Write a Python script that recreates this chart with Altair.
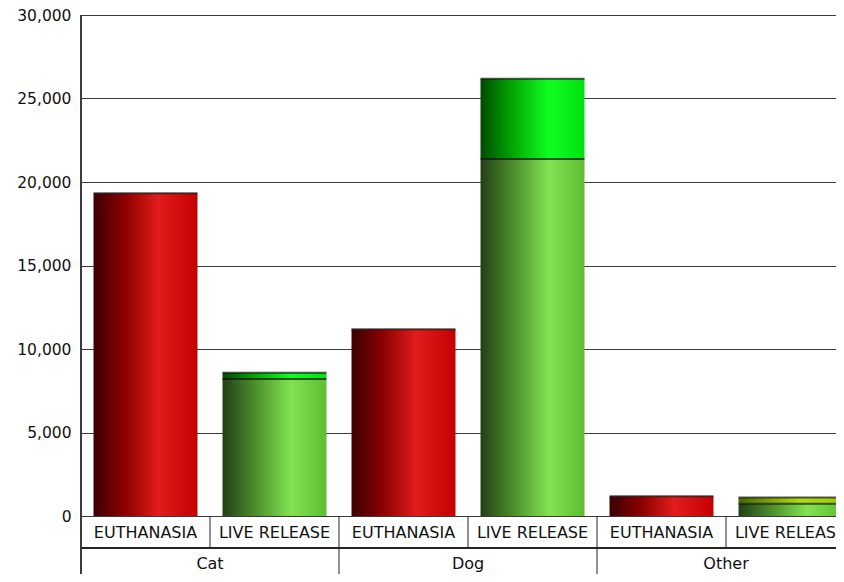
import altair as alt
import pandas as pd

animals = ["Cat", "Dog", "Other"]
outcomes = ["EUTHANASIA", "LIVE RELEASE"]

# stacked segments (series name, outcome, values per animal)
series_names = ["Euthanasia", "Live release A", "Live release B", "Live release C"]
series_outcome = ["EUTHANASIA", "LIVE RELEASE", "LIVE RELEASE", "LIVE RELEASE"]
euthanasia = [19320, 11190, 1190]
live_a = [8210, 21380, 740]
live_b = [370, 4810, 0]
live_c = [0, 0, 370]
series_values = [euthanasia, live_a, live_b, live_c]

rows = []
for si, (name, out, vals) in enumerate(zip(series_names, series_outcome, series_values)):
    for a, v in zip(animals, vals):
        rows.append({"animal": a, "outcome": out, "key": a + "|" + out,
                     "series": name, "order": si, "value": v})
df = pd.DataFrame(rows)

keys = [a + "|" + o for a in animals for o in outcomes]
lab = pd.DataFrame([{"key": a + "|" + o, "animal": a, "outcome": o,
                     "first": o == "EUTHANASIA"} for a in animals for o in outcomes])

W = 774
H = 501
FONT = "DejaVu Sans"


def grad(stops):
    return alt.Gradient(gradient="linear", x1=0, x2=1, y1=0, y2=0,
                        stops=[alt.GradientStop(offset=o, color=c) for o, c in stops])


colors = {
    "Euthanasia": grad([(0, "#3a0004"), (0.3, "#8c0000"), (0.62, "#e01c1c"), (1, "#c40000")]),
    "Live release A": grad([(0, "#233f18"), (0.3, "#4a8a2a"), (0.66, "#82e252"), (1, "#5cbe30")]),
    "Live release B": grad([(0, "#004a00"), (0.28, "#00a000"), (0.66, "#10ff22"), (1, "#00e010")]),
    "Live release C": grad([(0, "#496800"), (0.6, "#b0e012"), (1, "#98c800")]),
}

xenc = alt.X("key:N", sort=keys, axis=None,
             scale=alt.Scale(domain=keys, paddingInner=0, paddingOuter=0))

base = alt.Chart(df).transform_filter(alt.datum.value > 0).transform_stack(
    stack="value", groupby=["key"], as_=["y0", "y1"],
    sort=[alt.SortField("order", order="ascending")])

yenc = alt.Y("y0:Q", scale=alt.Scale(domain=[0, 30000], nice=False),
             axis=alt.Axis(values=[0, 5000, 10000, 15000, 20000, 25000, 30000], format=",d",
                           grid=True, gridColor="#3a3a3a", gridWidth=1, domainColor="#3a3a3a",
                           ticks=False, labelPadding=10, labelFontSize=15.5, labelFont=FONT,
                           labelColor="#111", title=None))

layers = []
for i, s in enumerate(series_names):
    layers.append(base.transform_filter(alt.datum.series == s).mark_bar(
        color=colors[s], width=alt.RelativeBandSize(0.806)).encode(
        x=xenc, y=yenc if i == 0 else alt.Y("y0:Q"), y2="y1:Q"))

ticks = base.mark_tick(orient="horizontal", thickness=2, size=104, color="#111").encode(
    x=xenc, y="y1:Q")

sub_sep = alt.Chart(lab).mark_rule(color="#222", strokeWidth=1).encode(
    x=alt.X("key:N", sort=keys, bandPosition=0), y=alt.value(H), y2=alt.value(H + 32))
grp_sep = alt.Chart(lab).transform_filter(alt.datum.first).mark_rule(color="#222", strokeWidth=1).encode(
    x=alt.X("key:N", sort=keys, bandPosition=0), y=alt.value(H + 32), y2=alt.value(H + 90))
hline = alt.Chart(lab).mark_rule(color="#222", strokeWidth=1).encode(
    x=alt.value(0), x2=alt.value(W), y=alt.value(H + 32))
vline = alt.Chart(lab).mark_rule(color="#3a3a3a", strokeWidth=1).encode(
    x=alt.value(0), y=alt.value(0), y2=alt.value(H + 90))
sub_text = alt.Chart(lab).mark_text(font=FONT, fontSize=16, color="#111", baseline="middle").encode(
    x=alt.X("key:N", sort=keys), y=alt.value(H + 17), text="outcome:N")
grp_text = alt.Chart(lab).transform_filter(alt.datum.first).mark_text(
    font=FONT, fontSize=16, color="#111", baseline="middle").encode(
    x=alt.X("key:N", sort=keys, bandPosition=1), y=alt.value(H + 48), text="animal:N")

chart = alt.layer(*layers, ticks, sub_sep, grp_sep, hline, vline, sub_text, grp_text).properties(
    width=W, height=H,
    autosize=alt.AutoSizeParams(type="none"),
    padding={"left": 73, "top": 7, "right": -19, "bottom": 58},
).configure_view(stroke=None)

chart.save("out.html", embed_options={"renderer": "svg", "actions": False})
